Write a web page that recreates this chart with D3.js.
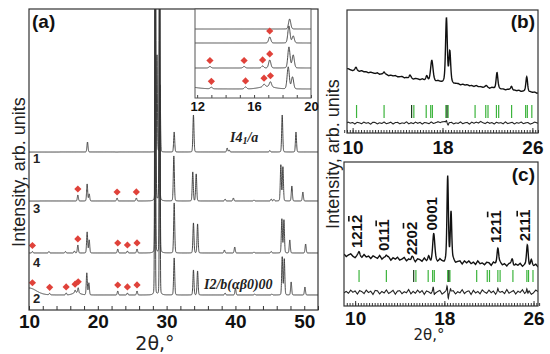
<!DOCTYPE html>
<html>
<head>
<meta charset="utf-8">
<script src="https://cdn.jsdelivr.net/npm/d3@7"></script>
<style>
  body { margin: 0; background: #fff; }
  svg { display: block; }
</style>
</head>
<body>
<svg id="chart" width="550" height="354"></svg>
<script>
// ---- data (2theta in degrees, intensities in arb. units) ----
// peak lists: [position, height, fwhm]
const trace1Peaks = [[18.5, 10], [28.6, 97, 0.14], [29.05, 67, 0.14], [31.1, 20], [33.9, 37],
    [38.8, 4], [39.1, 2], [45.0, 1.5], [46.8, 37], [48.8, 20]];
const trace3Peaks = [[17.1, 6], [18.45, 17], [18.75, 7], [22.8, 3], [25.6, 3],
    [28.4, 320, 0.12], [28.95, 320, 0.12], [31.05, 45], [33.8, 29], [34.3, 27], [38.5, 2],
    [39.7, 3], [42.7, 1], [45.2, 2], [45.6, 1.5], [46.6, 36], [46.9, 34], [48.2, 15], [49.8, 9]];
const trace4Peaks = [[10.5, 1.5], [12.9, 1.5], [15.3, 1.5], [16.6, 2], [17.1, 8], [18.45, 21],
    [18.75, 13], [22.9, 4], [24.3, 2], [25.7, 4], [28.35, 320, 0.12], [29.0, 320, 0.12], [31.1, 50],
    [33.9, 30], [34.5, 29], [38.4, 3], [39.9, 6], [42.7, 1], [45.2, 1.5], [46.75, 34], [47.05, 33],
    [47.9, 13], [50.2, 9]];
const trace2Peaks = [[10.0, 7, 2.5], [13.0, 1.5], [15.4, 2], [16.7, 2.5], [16.9, 2.5, 1.2],
    [17.15, 5], [18.4, 22], [18.7, 12], [22.9, 4], [24.3, 2], [25.7, 4], [28.3, 320, 0.12],
    [29.0, 320, 0.12], [31.1, 37], [33.9, 25], [34.5, 24], [38.5, 2], [40.0, 7], [42.8, 1],
    [45.3, 1], [46.8, 38], [47.1, 36], [48.1, 13], [50.1, 8]];

const traceNames = ["1", "3", "4", "2"];
const diamondsMain = [[], [17.1, 22.8, 25.6], [10.5, 17.1, 22.9, 24.3, 25.7],
    [10.5, 13.0, 15.4, 16.7, 17.15, 22.9, 24.3, 25.7]];
const diamondsInset = [[], [17.1], [12.9, 15.3, 16.6, 17.1], [13.0, 15.4, 16.7, 17.15]];

// panel (b) / (c): refinement
const bgBKnots = [9.5, 10, 15, 20, 26.5];
const bgBValues = [64, 63, 55, 48, 40];
const obsBPeaks = [[10.3, 3], [12.8, 2.5], [15.1, 3], [16.6, 4], [17.05, 20, 0.25], [18.35, 64, 0.18],
    [18.65, 31, 0.18], [21.9, 1.5], [22.85, 16], [24.15, 4], [25.5, 15]];
const diffBPeaks = [[17.9, 1.5, 0.5], [18.35, 2.5, 0.1], [18.5, -2, 0.1], [21.2, 0.8, 0.6]];

const bgCKnots = [9, 14, 21, 26.4];
const bgCValues = [51, 47, 43, 40];
const obsCPeaks = [[10.35, 4], [12.8, 3], [15.1, 3], [16.6, 4], [17.05, 26, 0.22], [18.3, 84, 0.15],
    [18.6, 50, 0.15], [22.8, 17], [24.1, 6], [25.45, 20], [25.8, 5]];
const diffCPeaks = [[17.0, 3, 0.08], [17.1, -3, 0.08], [18.25, 5, 0.08], [18.35, -6, 0.08],
    [18.55, 3, 0.08], [22.8, 2, 0.08], [25.4, 3, 0.08], [25.5, -2, 0.08]];

// hand-read scatter of the measured curves (step 0.2 deg from 9)
const noise = [0.8, -1.2, 0.3, 1.5, -0.6, -1.8, 0.9, 0.2, -1.1, 1.7, -0.4, 0.6, -1.5, 1.1, 0.1, -0.9,
    1.9, -1.3, 0.5, -0.2, 1.2, -1.7, 0.7, -0.5, 1.4, -1.0, 0.0, 1.6, -1.4, 0.4, -0.8, 1.3, -1.9, 0.9,
    0.3, -1.2, 1.8, -0.7, 0.2, -1.5, 1.0, 0.6, -1.1, 1.5, -0.3, -1.6, 1.2, 0.4, -0.9, 1.7, -1.2, 0.1,
    0.8, -1.8, 1.1, -0.5, 1.4, -1.0, 0.5, -1.4, 1.9, -0.6, 0.2, -1.3, 1.0, 0.7, -1.7, 1.3, -0.1, -1.1,
    1.6, -0.8, 0.4, -1.5, 0.9, 1.2, -1.9, 0.6, -0.4, 1.5, -1.2, 0.3, 1.1, -1.6, 0.8, -0.2, 1.4, -1.0,
    0.5, -0.7];

const greenTicks = [10.35, 12.8, 15.45, 16.55, 16.95, 17.1, 18.3, 18.5, 20.9, 21.85, 22.05, 22.8,
    23.0, 24.15, 25.4, 25.55, 25.95];
const blackTicks = [15.25, 18.4];

// Miller-Bravais indices; the last digit carries a bar
const hklText = ["1212", "0111", "2202", "0001", "1211", "2111"];
const hklBar = [true, true, true, false, true, true];
const hklPos = [10.35, 12.8, 15.25, 17.05, 22.8, 25.45];

const mainTickLabels = [10, 20, 30, 40, 50];
const insetTickLabels = [12, 16, 20];
const refTickLabels = [10, 18, 26];

// ---- helpers ----
const profile = (peaks, x, eta) => {
    let s = 0;
    for (const [p, h, w = 0.18] of peaks) {
        const d = (x - p) / (w / 2);
        if (Math.abs(d) > 80) continue;
        s += h * ((1 - eta) * Math.exp(-Math.LN2 * d * d) + eta / (1 + d * d));
    }
    return s;
};

const noiseScale = d3.scaleLinear().domain(noise.map((_, i) => 9 + i * 0.2)).range(noise).clamp(true);
const noiseScale2 = d3.scaleLinear().domain(noise.map((_, i) => 9 + i * 0.2)).range(noise.slice().reverse()).clamp(true);

const svg = d3.select("#chart");
const defs = svg.append("defs");
const addClip = (id, x, y, w, h) => defs.append("clipPath").attr("id", id)
    .append("rect").attr("x", x).attr("y", y).attr("width", w).attr("height", h);

const boldFont = "'Liberation Sans', Arial, sans-serif";
const traceColor = "#333";
const diamondPath = d3.symbol(d3.symbolSquare, 26)();
const allPeaks = [trace1Peaks, trace3Peaks, trace4Peaks, trace2Peaks];

// ---- panel (a) ----
const xA = d3.scaleLinear().domain([10, 52]).range([29, 318]);
const yA = d3.scaleLinear().domain([0, 301]).range([310, 9]);
const offsetsA = [158, 109, 57, 15];
addClip("clipA", 29, 9, 289, 301);

const gA = svg.append("g");
const gridA = d3.range(10, 52.0001, 0.01);
const plotA = gA.append("g").attr("clip-path", "url(#clipA)");

allPeaks.forEach((peaks, i) => {
    const pts = gridA.map(x => [x, offsetsA[i] + profile(peaks, x, 0.1)]);
    plotA.append("path")
        .attr("fill", "none")
        .attr("stroke", traceColor)
        .attr("stroke-width", 0.9)
        .attr("d", d3.line().x(d => xA(d[0])).y(d => yA(d[1]))(pts));

    plotA.selectAll(null)
        .data(diamondsMain[i])
        .join("path")
        .attr("d", diamondPath)
        .attr("fill", "#e0423a")
        .attr("transform", d => `translate(${xA(d)},${yA(offsetsA[i] + profile(peaks, d, 0.1)) - 6}) rotate(45)`);

    gA.append("text")
        .attr("x", 33)
        .attr("y", yA(offsetsA[i]) + [11, 12, 14, 8][i])
        .attr("font-family", boldFont)
        .attr("font-weight", "bold")
        .attr("font-size", 13)
        .attr("fill", "#222")
        .text(traceNames[i]);
});

const axisA = gA.append("g")
    .attr("transform", `translate(0,${yA(0)})`)
    .call(d3.axisBottom(xA).tickValues(d3.range(10, 53, 2)).tickSize(-4).tickPadding(5)
        .tickFormat(d => mainTickLabels.includes(d) ? d : ""));
axisA.select(".domain").remove();
axisA.selectAll("text").attr("font-family", boldFont).attr("font-weight", "bold").attr("font-size", 19).attr("fill", "#111");
axisA.selectAll("line").attr("stroke", "#333");

gA.append("rect")
    .attr("x", 29).attr("y", 9).attr("width", 289).attr("height", 301)
    .attr("fill", "none").attr("stroke", "#333").attr("stroke-width", 1.2);

// phase labels
const serif = "'Liberation Serif', 'Times New Roman', serif";
const lab1 = gA.append("text").attr("x", 230).attr("y", 142)
    .attr("font-family", serif).attr("font-style", "italic").attr("font-weight", "bold")
    .attr("font-size", 14).attr("fill", "#222");
lab1.append("tspan").text("I4");
lab1.append("tspan").attr("font-size", 10).attr("dy", 2).text("1");
lab1.append("tspan").attr("dy", -2).text("/a");
gA.append("text").attr("x", 204).attr("y", 289)
    .attr("font-family", serif).attr("font-style", "italic").attr("font-weight", "bold")
    .attr("font-size", 14).attr("fill", "#222")
    .text("I2/b(\u03b1\u03b20)00");

gA.append("text").attr("x", 32).attr("y", 28)
    .attr("font-family", boldFont).attr("font-weight", "bold").attr("font-size", 19)
    .attr("fill", "#111").text("(a)");

// ---- inset ----
const xIn = d3.scaleLinear().domain([11.85, 20]).range([195, 311]);
const yIn = d3.scaleLinear().domain([0, 89]).range([98, 9]);
const offsetsIn = [69, 55, 30, 9];
addClip("clipIn", 195, 9, 116, 89);
const gIn = svg.append("g");
gIn.append("rect").attr("x", 195).attr("y", 9).attr("width", 116).attr("height", 89).attr("fill", "#fff");
const plotIn = gIn.append("g").attr("clip-path", "url(#clipIn)");
const gridIn = d3.range(11.85, 20.001, 0.01);
allPeaks.forEach((peaks, i) => {
    const pts = gridIn.map(x => [x, offsetsIn[i] + profile(peaks, x, 0.1)]);
    plotIn.append("path")
        .attr("fill", "none")
        .attr("stroke", traceColor)
        .attr("stroke-width", 0.9)
        .attr("d", d3.line().x(d => xIn(d[0])).y(d => yIn(d[1]))(pts));
    plotIn.selectAll(null)
        .data(diamondsInset[i])
        .join("path")
        .attr("d", diamondPath)
        .attr("fill", "#e0423a")
        .attr("transform", d => `translate(${xIn(d)},${yIn(offsetsIn[i] + profile(peaks, d, 0.1)) - 6}) rotate(45)`);
});
const axisIn = gIn.append("g")
    .attr("transform", `translate(0,${yIn(0)})`)
    .call(d3.axisBottom(xIn).tickValues(d3.range(12, 20.5, 1)).tickSize(-3).tickPadding(4)
        .tickFormat(d => insetTickLabels.includes(d) ? d : ""));
axisIn.select(".domain").remove();
axisIn.selectAll("text").attr("font-family", boldFont).attr("font-weight", "bold").attr("font-size", 13).attr("fill", "#111");
axisIn.selectAll("line").attr("stroke", "#444");
gIn.append("rect").attr("x", 195).attr("y", 9).attr("width", 116).attr("height", 89)
    .attr("fill", "none").attr("stroke", "#555").attr("stroke-width", 1);

// ---- panels (b) and (c) ----
const drawRefinement = (cfg) => {
    const { x, y, bg, obsPeaks, diffPeaks, obsNoise, diffNoise, diffBase, tickTop, tickBottom, id, padding } = cfg;
    const [x0, x1] = x.range();
    const [y1, y0] = y.range();
    addClip(id, x0, y0, x1 - x0, y1 - y0);
    const g = svg.append("g");
    const plot = g.append("g").attr("clip-path", `url(#${id})`);
    const grid = d3.range(x.domain()[0], x.domain()[1] + 0.001, 0.02);
    const obs = v => bg(v) + profile(obsPeaks, v, 0.35) + obsNoise * noiseScale(v);
    const line = d3.line().x(d => x(d[0])).y(d => y(d[1]));

    plot.append("path").attr("fill", "none").attr("stroke", "#111").attr("stroke-width", 1.4)
        .attr("d", line(grid.map(v => [v, obs(v)])));
    plot.append("path").attr("fill", "none").attr("stroke", "#222").attr("stroke-width", 1.1)
        .attr("d", line(grid.map(v => [v, diffBase + profile(diffPeaks, v, 0.2) + diffNoise * noiseScale2(v)])));

    plot.selectAll(null).data(greenTicks).join("line")
        .attr("x1", d => x(d)).attr("x2", d => x(d))
        .attr("y1", y(tickTop)).attr("y2", y(tickBottom))
        .attr("stroke", "#3cb43c").attr("stroke-width", 1.2);
    plot.selectAll(null).data(blackTicks).join("line")
        .attr("x1", d => x(d)).attr("x2", d => x(d))
        .attr("y1", y(tickTop)).attr("y2", y(tickBottom))
        .attr("stroke", "#1a3a1a").attr("stroke-width", 1.2);

    const minor = g.append("g").attr("transform", `translate(0,${y1})`)
        .call(d3.axisBottom(x).tickValues(d3.range(9.25, 26.6, 0.25)).tickSize(-3).tickFormat(""));
    minor.select(".domain").remove();
    const major = g.append("g").attr("transform", `translate(0,${y1})`)
        .call(d3.axisBottom(x).tickValues(refTickLabels).tickSize(-5).tickPadding(padding));
    major.select(".domain").remove();
    major.selectAll("text").attr("font-family", boldFont).attr("font-weight", "bold").attr("font-size", 19).attr("fill", "#111");
    g.selectAll(".tick line").attr("stroke", "#333");

    g.append("rect").attr("x", x0).attr("y", y0).attr("width", x1 - x0).attr("height", y1 - y0)
        .attr("fill", "none").attr("stroke", "#333").attr("stroke-width", 1.2);
    return { g, obs };
};

const xB = d3.scaleLinear().domain([9.5, 26.5]).range([347, 538]);
const yB = d3.scaleLinear().domain([0, 123]).range([133, 10]);
const bgB = d3.scaleLinear().domain(bgBKnots).range(bgBValues);
const panelB = drawRefinement({ x: xB, y: yB, bg: bgB, obsPeaks: obsBPeaks, diffPeaks: diffBPeaks,
    obsNoise: 0.35, diffNoise: 0.6, diffBase: 10, tickTop: 28, tickBottom: 15, id: "clipB", padding: 8 });
panelB.g.append("text").attr("x", 535).attr("y", 28).attr("text-anchor", "end")
    .attr("font-family", boldFont).attr("font-weight", "bold").attr("font-size", 19)
    .attr("fill", "#111").text("(b)");

const xC = d3.scaleLinear().domain([9, 26.4]).range([344, 538]);
const yC = d3.scaleLinear().domain([0, 144]).range([306, 162]);
const bgC = d3.scaleLinear().domain(bgCKnots).range(bgCValues);
const panelC = drawRefinement({ x: xC, y: yC, bg: bgC, obsPeaks: obsCPeaks, diffPeaks: diffCPeaks,
    obsNoise: 1.1, diffNoise: 1.3, diffBase: 14, tickTop: 36, tickBottom: 24, id: "clipC", padding: 6 });
panelC.g.append("text").attr("x", 535).attr("y", 181).attr("text-anchor", "end")
    .attr("font-family", boldFont).attr("font-weight", "bold").attr("font-size", 19)
    .attr("fill", "#111").text("(c)");

// rotated hkl labels above the reflections, with a bar drawn over the last index
const hkl = panelC.g.selectAll(".hkl")
    .data(hklPos)
    .join("g")
    .attr("class", "hkl")
    .attr("transform", d => `translate(${xC(d) + 3},${yC(bgC(d) + profile(obsCPeaks, d, 0.35)) - 4}) rotate(-90)`);
hkl.append("text")
    .attr("font-family", boldFont)
    .attr("font-weight", "bold")
    .attr("font-size", 15)
    .attr("fill", "#111")
    .text((d, i) => hklText[i]);
hkl.each(function (d, i) {
    if (!hklBar[i]) return;
    const t = d3.select(this).select("text").node();
    const n = hklText[i].length;
    const full = t.getComputedTextLength();
    const last = t.getSubStringLength(n - 1, 1);
    d3.select(this).append("line")
        .attr("x1", full - last + 1.5).attr("x2", full - 1.2)
        .attr("y1", -13.2).attr("y2", -13.2)
        .attr("stroke", "#111").attr("stroke-width", 1.6);
});

// ---- axis titles ----
const titleFont = "'Liberation Sans', Arial, sans-serif";
svg.append("text").attr("transform", "translate(25,172) rotate(-90)").attr("text-anchor", "middle")
    .attr("font-family", titleFont).attr("font-size", 18).attr("fill", "#222")
    .text("Intensity, arb. units");
svg.append("text").attr("transform", "translate(339,154) rotate(-90)").attr("text-anchor", "middle")
    .attr("font-family", titleFont).attr("font-size", 18).attr("fill", "#222")
    .text("Intensity, arb. units");
svg.append("text").attr("x", 155).attr("y", 350).attr("text-anchor", "middle")
    .attr("font-family", "'DejaVu Sans', sans-serif").attr("font-size", 19).attr("fill", "#222")
    .text("2\u03b8,\u00b0");
svg.append("text").attr("x", 429).attr("y", 340).attr("text-anchor", "middle")
    .attr("font-family", "'DejaVu Sans', sans-serif").attr("font-size", 15).attr("fill", "#222")
    .text("2\u03b8,\u00b0");
</script>
</body>
</html>
